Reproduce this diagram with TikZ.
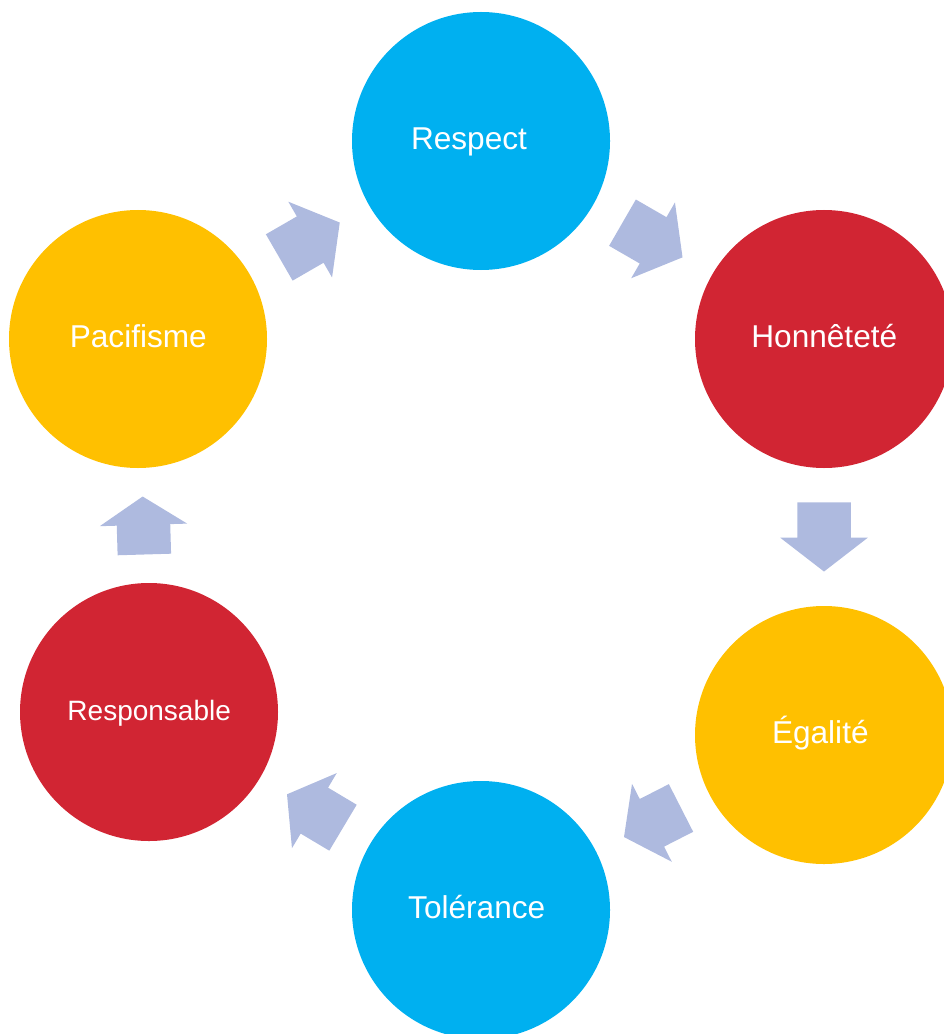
\documentclass[tikz,border=0pt]{standalone}
\usepackage{fontspec}
\setmainfont{Liberation Sans}
\usetikzlibrary{calc}
\definecolor{cblue}{HTML}{00B0F0}
\definecolor{cred}{HTML}{D12533}
\definecolor{cyellow}{HTML}{FFC000}
\definecolor{carrow}{HTML}{AEBADF}
\newcommand\shafthalf{20.06pt}
\newcommand\headhalf{32.81pt}
% #1 from node, #2 to node, #3 half length, #4 head length
\newcommand\cyclearrow[4]{%
  \coordinate (ca-m) at ($(#1)!0.5!(#2)$);
  \coordinate (ca-t) at ($(ca-m)!-#3!(#2)$);
  \coordinate (ca-h) at ($(ca-m)!#3-#4!(#2)$);
  \coordinate (ca-p) at ($(ca-m)!#3!(#2)$);
  \fill[arrowfill] ($(ca-t)!\shafthalf!90:(#2)$) -- ($(ca-h)!\shafthalf!90:(#2)$)
    -- ($(ca-h)!\headhalf!90:(#2)$) -- (ca-p) -- ($(ca-h)!\headhalf!-90:(#2)$)
    -- ($(ca-h)!\shafthalf!-90:(#2)$) -- ($(ca-t)!\shafthalf!-90:(#2)$) -- cycle;
}
\begin{document}
\begin{tikzpicture}[x=0.75pt,y=-0.75pt,
  disc/.style={circle,inner sep=0pt,outer sep=0pt,minimum size=193.5pt,draw=none},
  lbl/.style={text=white,inner sep=0pt,anchor=base,font=\fontsize{23.7}{28}\selectfont},
  lblsmall/.style={lbl,font=\fontsize{21}{25}\selectfont},
  arrowfill/.style={fill=carrow,draw=none}]
\useasboundingbox (0,0) rectangle (944,1034);
\clip (0,0) rectangle (944,1034);
\node[disc,fill=cblue]   (respect)     at (481,141) {};
\node[disc,fill=cred]    (honnetete)   at (824,339) {};
\node[disc,fill=cyellow] (egalite)     at (824,735) {};
\node[disc,fill=cblue]   (tolerance)   at (481,910) {};
\node[disc,fill=cred]    (responsable) at (149,712) {};
\node[disc,fill=cyellow] (pacifisme)   at (138,339) {};
\node[lbl] (t-respect)     at (469,150)   {Respect};
\node[lbl] (t-honnetete)   at (824.3,347.7) {Honnêteté};
\node[lbl] (t-egalite)     at (820.3,743.3) {Égalité};
\node[lbl] (t-tolerance)   at (476.7,918.3) {Tolérance};
\node[lblsmall] (t-responsable) at (149.2,720) {Responsable};
\node[lbl] (t-pacifisme)   at (138.3,347.7) {Pacifisme};
\cyclearrow{pacifisme}{respect}{26.2pt}{25.6pt}
\cyclearrow{respect}{honnetete}{26.0pt}{25.5pt}
\cyclearrow{honnetete}{egalite}{25.9pt}{25.35pt}
\cyclearrow{egalite}{tolerance}{24.0pt}{23.5pt}
\cyclearrow{tolerance}{responsable}{24.45pt}{23.9pt}
\cyclearrow{responsable}{pacifisme}{21.75pt}{21.3pt}
\end{tikzpicture}
\end{document}
